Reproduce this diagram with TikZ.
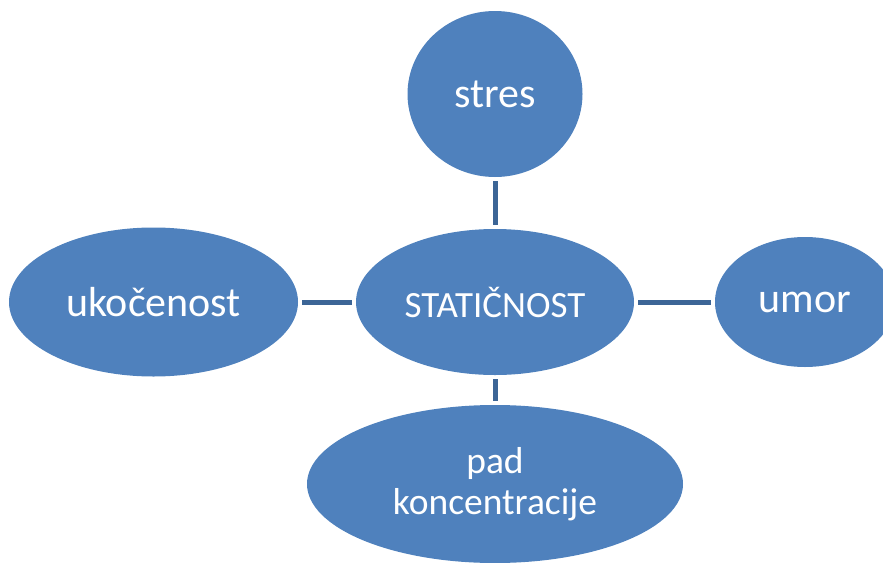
\documentclass[tikz,border=0pt]{standalone}
\usepackage{fontspec}
\setmainfont{Carlito}
\usetikzlibrary{shapes.geometric}
\definecolor{bubble}{RGB}{79,129,189}
\definecolor{link}{RGB}{60,101,150}

\begin{document}
\begin{tikzpicture}[x=1pt,y=-1pt,
  blob/.style={ellipse,fill=bubble,inner sep=0pt,text=white,font=\fontsize{42}{46}\selectfont},
  spoke/.style={link,line width=5pt,shorten <=4pt,shorten >=4pt}]

\clip (0,0) rectangle (883,562);

\node[blob,minimum width=278,minimum height=146,font=\fontsize{37}{40}\selectfont] (static) at (495,302) {STATIČNOST};
\node[blob,minimum width=175,minimum height=166] (stres) at (495,94) {stres};
\node[blob,minimum width=289,minimum height=149] (ukoc) at (153.5,302) {ukočenost};
\node[blob,minimum width=180,minimum height=130] (umor) at (805,302) {umor};
\node[blob,minimum width=376,minimum height=158,align=center,font=\fontsize{37.5}{41}\selectfont] (pad) at (495,484) {pad\\koncentracije};

% spokes from the middle
\draw[spoke] (static) -- (stres);
\draw[spoke] (static) -- (ukoc);
\draw[spoke] (static) -- (umor);
\draw[spoke] (static) -- (pad);

\end{tikzpicture}
\end{document}
